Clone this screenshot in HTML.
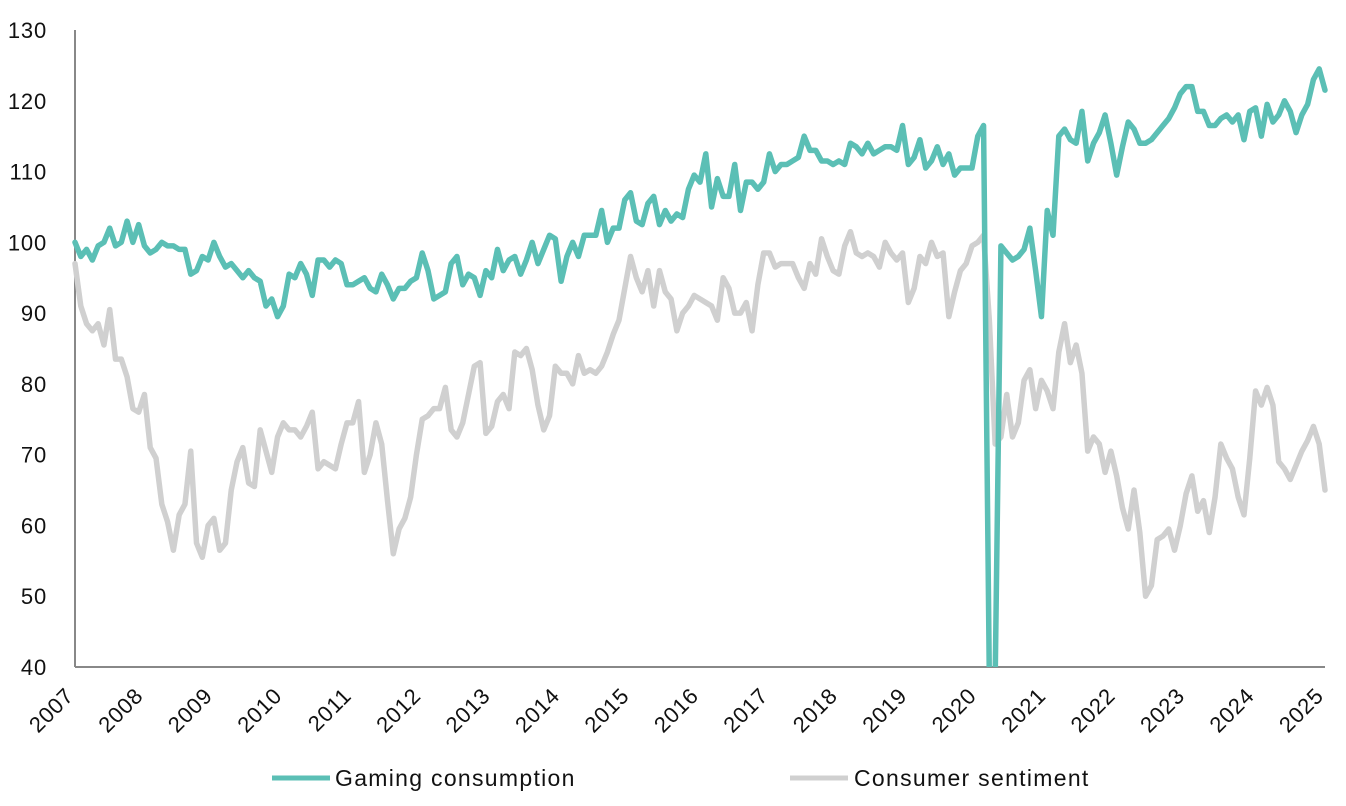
<!DOCTYPE html>
<html><head><meta charset="utf-8">
<style>
html,body{margin:0;padding:0;background:#fff;}
svg{display:block;font-family:"Liberation Sans",sans-serif;}
</style></head>
<body>
<svg id="chart" width="1346" height="806" viewBox="0 0 1346 806">
  <defs><clipPath id="plotclip"><rect x="60" y="20" width="1280" height="647"/></clipPath></defs>
  <g id="grid"></g>
  <g id="series" clip-path="url(#plotclip)"></g>
  <g id="legend">
    <line x1="272" y1="778" x2="330" y2="778" stroke="#5bbfb5" stroke-width="5"/>
    <text x="335" y="786" font-size="23" letter-spacing="1.3" fill="#111">Gaming consumption</text>
    <line x1="790" y1="778" x2="848" y2="778" stroke="#d0d0d0" stroke-width="5"/>
    <text x="854" y="786" font-size="23" letter-spacing="1.3" fill="#111">Consumer sentiment</text>
  </g>
</svg>
<script>
const yTicks = [40,50,60,70,80,90,100,110,120,130];
const years = [2007,2008,2009,2010,2011,2012,2013,2014,2015,2016,2017,2018,2019,2020,2021,2022,2023,2024,2025];
const gaming = [
100,98,99,97.5,99.5,100,102,99.5,100,103,100,102.5,
99.5,98.5,99,100,99.5,99.5,99,99,95.5,96,98,97.5,
100,98,96.5,97,96,95,96,95,94.5,91,92,89.5,
91,95.5,95,97,95.5,92.5,97.5,97.5,96.5,97.5,97,94,
94,94.5,95,93.5,93,95.5,94,92,93.5,93.5,94.5,95,
98.5,96,92,92.5,93,97,98,94,95.5,95,92.5,96,
95,99,96,97.5,98,95.5,97.5,100,97,99,101,100.5,
94.5,98,100,98,101,101,101,104.5,100,102,102,106,
107,103,102.5,105.5,106.5,102.5,104.5,103,104,103.5,107.5,109.5,
108.5,112.5,105,109,106.5,106.5,111,104.5,108.5,108.5,107.5,108.5,
112.5,110,111,111,111.5,112,115,113,113,111.5,111.5,111,
111.5,111,114,113.5,112.5,114,112.5,113,113.5,113.5,113,116.5,
111,112,114.5,110.5,111.5,113.5,111,112.5,109.5,110.5,110.5,110.5,
115,116.5,38,38,99.5,98.5,97.5,98,99,102,96,89.5,
104.5,101,115,116,114.5,114,118.5,111.5,114,115.5,118,114,
109.5,113.5,117,116,114,114,114.5,115.5,116.5,117.5,119,121,
122,122,118.5,118.5,116.5,116.5,117.5,118,117,118,114.5,118.5,
119,115,119.5,117,118,120,118.5,115.5,118,119.5,123,124.5,
121.5];
const sentiment = [
97,91,88.5,87.5,88.5,85.5,90.5,83.5,83.5,81,76.5,76,
78.5,71,69.5,63,60.5,56.5,61.5,63,70.5,57.5,55.5,60,
61,56.5,57.5,65,69,71,66,65.5,73.5,70.5,67.5,72.5,
74.5,73.5,73.5,72.5,74,76,68,69,68.5,68,71.5,74.5,
74.5,77.5,67.5,70,74.5,71.5,63.5,56,59.5,61,64,70,
75,75.5,76.5,76.5,79.5,73.5,72.5,74.5,78.5,82.5,83,73,
74,77.5,78.5,76.5,84.5,84,85,82,77,73.5,75.5,82.5,
81.5,81.5,80,84,81.5,82,81.5,82.5,84.5,87,89,93.5,
98,95,93,96,91,96,93,92,87.5,90,91,92.5,
92,91.5,91,89,95,93.5,90,90,91.5,87.5,94,98.5,
98.5,96.5,97,97,97,95,93.5,97,95.5,100.5,98,96,
95.5,99.5,101.5,98.5,98,98.5,98,96.5,100,98.5,97.5,98.5,
91.5,93.5,98,97,100,98,98.5,89.5,93,96,97,99.5,
100,101,89,71.5,72.5,78.5,72.5,74.5,80.5,82,76.5,80.5,
79,76.5,84.5,88.5,83,85.5,81.5,70.5,72.5,71.5,67.5,70.5,
67,62.5,59.5,65,59,50,51.5,58,58.5,59.5,56.5,60,
64.5,67,62,63.5,59,64,71.5,69.5,68,64,61.5,69.5,
79,77,79.5,77,69,68,66.5,68.5,70.5,72,74,71.5,
65];

const NS='http://www.w3.org/2000/svg';
const X0=75, X1=1325, Y0=667, Y1=30, YMIN=40, YMAX=130;
const totalMonths=(years[years.length-1]-years[0])*12;
function xMonth(i){return X0+(X1-X0)*i/totalMonths;}
function xYear(y){return xMonth((y-years[0])*12);}
function yVal(v){return Y0-(Y0-Y1)*(v-YMIN)/(YMAX-YMIN);}
function mk(tag,attrs,parent){const e=document.createElementNS(NS,tag);for(const k in attrs)e.setAttribute(k,attrs[k]);parent.appendChild(e);return e;}

const grid=document.getElementById('grid');
const ya=mk('line',{x1:X0,y1:Y1,x2:X0,y2:Y0,stroke:'#888','stroke-width':2},grid);


const xa=mk('line',{x1:X0,y1:Y0,x2:X1,y2:Y0,stroke:'#888','stroke-width':2},grid);


yTicks.forEach(v=>{
  const t=mk('text',{x:47,y:yVal(v)+8,'text-anchor':'end','font-size':22,'letter-spacing':0.8,fill:'#111'},grid);
  t.textContent=v;
  
  
});
years.forEach(y=>{
  const x=xYear(y);
  const t=mk('text',{x:x,y:697,'text-anchor':'end','font-size':22,'letter-spacing':0.8,fill:'#111',transform:`rotate(-45 ${x} 697)`},grid);
  t.textContent=y;
  
  
});

const sg=document.getElementById('series');
function draw(arr,color,name){
  const d=arr.map((v,i)=>(i?'L':'M')+xMonth(i).toFixed(2)+','+yVal(v).toFixed(2)).join(' ');
  const p=mk('path',{d:d,fill:'none',stroke:color,'stroke-width':5.5,'stroke-linejoin':'round','stroke-linecap':'round'},sg);
  
  
}
draw(sentiment,'#d0d0d0','consumer-sentiment-line');
draw(gaming,'#5bbfb5','gaming-consumption-line');
</script>
</body></html>
